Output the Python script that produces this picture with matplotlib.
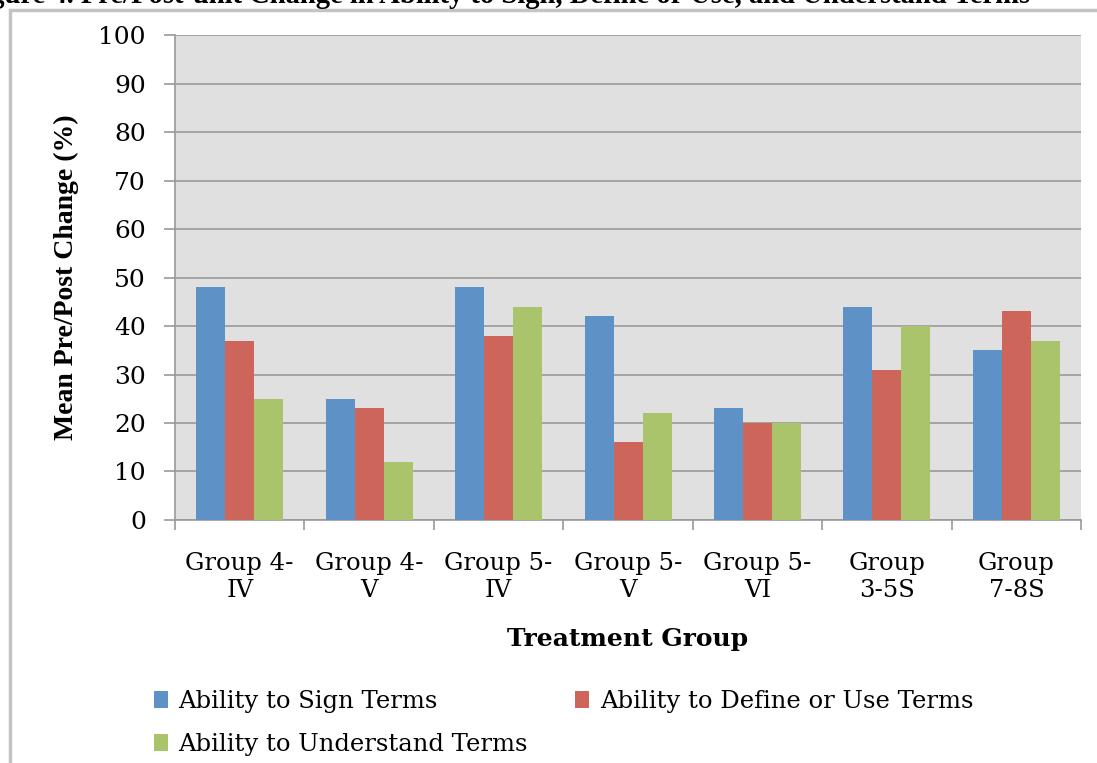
import numpy as np
import matplotlib.pyplot as plt
from matplotlib.patches import Rectangle

groups = ["Group 4-\nIV", "Group 4-\nV", "Group 5-\nIV", "Group 5-\nV",
          "Group 5-\nVI", "Group\n3-5S", "Group\n7-8S"]
sign_terms = [48, 25, 48, 42, 23, 44, 35]
define_terms = [37, 23, 38, 16, 20, 31, 43]
understand_terms = [25, 12, 44, 22, 20, 40, 37]

series = [("Ability to Sign Terms", sign_terms, "#5e91c6"),
          ("Ability to Define or Use Terms", define_terms, "#cd655a"),
          ("Ability to Understand Terms", understand_terms, "#a9c46b")]

plt.rcParams["font.family"] = "DejaVu Serif"

fig = plt.figure(figsize=(10.97, 7.63), dpi=100)
ax = fig.add_axes([0.1595, 0.3185, 0.826, 0.6355])

# outer chart frame, running off the right and bottom edges
fig.patches.append(Rectangle((0.009, -0.1), 1.2, 1.087, transform=fig.transFigure,
                             facecolor="none", edgecolor="#c4c4c4", lw=2.5))

x = np.arange(len(groups))
w = 0.224
bars = []
for i, (name, vals, col) in enumerate(series):
    bars.append(ax.bar(x + (i - 1) * w, vals, w, color=col, label=name, zorder=3))

ax.set_facecolor("#e0e0e0")
ax.set_xlim(-0.5, len(groups) - 0.5)
ax.set_ylim(0, 100)
ax.set_yticks(range(0, 101, 10))
ax.yaxis.grid(True, color="#9a9a9a", lw=1.2, zorder=1)
for s in ["top", "right"]:
    ax.spines[s].set_visible(False)
for s in ["left", "bottom"]:
    ax.spines[s].set_color("#9a9a9a")
    ax.spines[s].set_linewidth(1.2)

ax.set_xticks(np.arange(len(groups) + 1) - 0.5)
ax.set_xticklabels([])
ax.set_xticks(x, minor=True)
ax.set_xticklabels(groups, minor=True, fontsize=17.5, linespacing=1.2)
ax.tick_params(axis="x", which="major", length=7, color="#9a9a9a", width=1.2)
ax.tick_params(axis="x", which="minor", length=0, pad=23)
ax.tick_params(axis="y", length=8, color="#9a9a9a", width=1.2, labelsize=18, pad=13)

ax.set_ylabel("Mean Pre/Post Change (%)", fontsize=20, fontweight="bold",
              family="Liberation Serif", labelpad=14)
ax.set_xlabel("Treatment Group", fontsize=18, fontweight="bold", labelpad=18)

fig.text(0.939, 1 - 3 / 763,
         "Figure 4. Pre/Post-unit Change in Ability to Sign, Define or Use, and Understand Terms",
         ha="right", va="baseline", fontsize=20.6, fontweight="bold", family="Liberation Serif")

# row-wise legend order: sign, define on the first row, understand below
order = [0, 2, 1]
ax.legend([bars[k] for k in order], [series[k][0] for k in order],
          loc="upper left", bbox_to_anchor=(-0.047, -0.305), ncol=2, frameon=False,
          fontsize=17.5, handlelength=0.55, handleheight=0.7, handletextpad=0.45,
          columnspacing=1.95, labelspacing=0.85)

fig.savefig("out.png", dpi=100)
